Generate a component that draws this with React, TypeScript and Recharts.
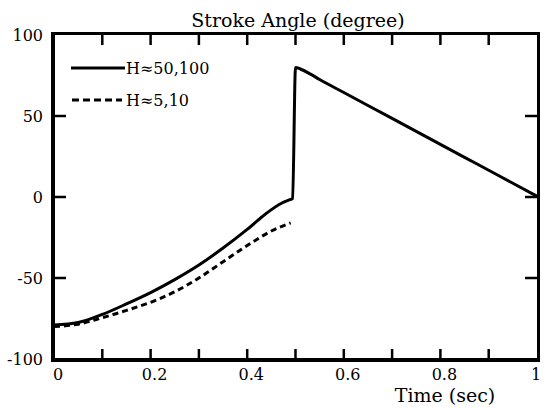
import { LineChart, Line, XAxis, YAxis, Legend } from "recharts"

// time (sec) and stroke angle (degree)
const solidTime = [0, 0.05, 0.1, 0.15, 0.2, 0.25, 0.3, 0.35, 0.4, 0.44, 0.47, 0.49, 0.494, 0.5, 0.51, 0.53, 0.55, 0.6, 0.65, 0.7, 0.75, 0.8, 0.85, 0.9, 0.95, 1.0]
const solidAngle = [-79, -77.5, -72.5, -66, -59, -51, -42, -31.5, -20, -10, -4, -1.5, -1, 80, 79, 76, 72.5, 64.5, 56.5, 48.5, 40.5, 32.5, 24.5, 16.5, 8.5, 0.5]

const dashedTime = [0, 0.05, 0.1, 0.15, 0.2, 0.25, 0.3, 0.35, 0.4, 0.45, 0.49]
const dashedAngle = [-80, -78.5, -74.5, -70, -65, -58.5, -50, -40, -30, -21, -16]

const seriesNames = ["H≈50,100", "H≈5,10"]

const xTicks = [0, 0.1, 0.2, 0.3, 0.4, 0.5, 0.6, 0.7, 0.8, 0.9, 1]
const xLabels = ["0", "", "0.2", "", "0.4", "", "0.6", "", "0.8", "", "1"]
const yTicks = [-100, -50, 0, 50, 100]

const solidData = solidTime.map((t, i) => ({ t, angle: solidAngle[i] }))
const dashedData = dashedTime.map((t, i) => ({ t, angle: dashedAngle[i] }))

const FONT = "DejaVu Serif"
const W = 544
const H = 407
const MARGIN = { top: 35, right: 7, bottom: 0, left: 0 }
const X_AXIS_H = 48
const Y_AXIS_W = 54
const LEFT = MARGIN.left + Y_AXIS_W
const TOP = MARGIN.top
const PLOT_W = W - LEFT - MARGIN.right
const PLOT_H = H - TOP - MARGIN.bottom - X_AXIS_H

function BottomTick({ x, y, index }: any) {
  const last = index === xTicks.length - 1
  return (
    <text x={last ? x - 1 : x + 4} y={y + 21} textAnchor="middle" fontFamily={FONT} fontSize={16} fill="#000">
      {xLabels[index]}
    </text>
  )
}

function LeftTick({ x, y, payload }: any) {
  return (
    <text x={x - 11} y={y + 6} textAnchor="end" fontFamily={FONT} fontSize={16} fill="#000">
      {payload.value}
    </text>
  )
}

// box around the plot with inward tick marks on all four sides
function Frame() {
  const px = (t: number) => LEFT + t * PLOT_W
  const py = (v: number) => TOP + ((100 - v) / 200) * PLOT_H
  const bars: { x: number; y: number; w: number; h: number }[] = []
  xTicks.slice(1, -1).forEach((t) => {
    bars.push({ x: px(t) - 1.25, y: TOP, w: 2.5, h: 10 })
    bars.push({ x: px(t) - 1.25, y: TOP + PLOT_H - 10, w: 2.5, h: 10 })
  })
  yTicks.slice(1, -1).forEach((v) => {
    bars.push({ x: LEFT, y: py(v) - 1.25, w: 12, h: 2.5 })
    bars.push({ x: LEFT + PLOT_W - 12, y: py(v) - 1.25, w: 12, h: 2.5 })
  })
  return (
    <div style={{ position: "absolute", left: 0, top: 0, width: W, height: H, pointerEvents: "none" }}>
      <div
        style={{
          position: "absolute",
          left: LEFT - 1.5,
          top: TOP - 1.5,
          width: PLOT_W,
          height: PLOT_H,
          border: "3px solid #000",
          boxSizing: "content-box",
          marginLeft: -1.5,
          marginTop: -1.5,
        }}
      />
      <svg width={W} height={H} style={{ position: "absolute", left: 0, top: 0 }}>
        {bars.map((b, i) => (
          <rect key={i} x={b.x} y={b.y} width={b.w} height={b.h} fill="#000" />
        ))}
        <text x={LEFT + 244} y={TOP - 8} textAnchor="middle" fontFamily={FONT} fontSize={19} fill="#000">
          Stroke Angle (degree)
        </text>
      </svg>
    </div>
  )
}

function LegendBox() {
  return (
    <svg width={160} height={60}>
      <line x1={5} x2={59} y1={15} y2={15} stroke="#000" strokeWidth={3} />
      <text x={60} y={21} fontFamily={FONT} fontSize={16} fill="#000">{seriesNames[0]}</text>
      <line x1={6} x2={56} y1={47} y2={47} stroke="#000" strokeWidth={3} strokeDasharray="7 4" />
      <text x={60} y={53} fontFamily={FONT} fontSize={16} fill="#000">{seriesNames[1]}</text>
    </svg>
  )
}

export default function App() {
  const axisLine = { stroke: "#000", strokeWidth: 2 }
  return (
    <div style={{ position: "absolute", left: 0, top: 0, width: W, height: H, background: "#fff" }}>
      <LineChart width={W} height={H} margin={MARGIN}>
        <XAxis
          type="number"
          dataKey="t"
          domain={[0, 1]}
          ticks={xTicks}
          interval={0}
          height={X_AXIS_H}
          axisLine={axisLine}
          tickLine={false}
          tickSize={0}
          tickMargin={0}
          tick={<BottomTick />}
          label={({ viewBox }: any) => (
            <text x={viewBox.x + 391} y={viewBox.y + 43} textAnchor="middle" fontFamily={FONT} fontSize={19} fill="#000">
              Time (sec)
            </text>
          )}
        />
        <YAxis
          type="number"
          domain={[-100, 100]}
          ticks={yTicks}
          interval={0}
          width={Y_AXIS_W}
          axisLine={axisLine}
          tickLine={false}
          tickSize={0}
          tickMargin={0}
          tick={<LeftTick />}
        />
        <Legend
          layout="vertical"
          align="center"
          verticalAlign="middle"
          wrapperStyle={{ left: 66, top: 53, width: 160, height: 60 }}
          content={() => <LegendBox />}
        />
        <Line
          data={solidData}
          dataKey="angle"
          name={seriesNames[0]}
          type="monotone"
          stroke="#000"
          strokeWidth={3}
          dot={false}
          activeDot={false}
          isAnimationActive={false}
        />
        <Line
          data={dashedData}
          dataKey="angle"
          name={seriesNames[1]}
          type="monotone"
          stroke="#000"
          strokeWidth={3}
          strokeDasharray="6 4"
          dot={false}
          activeDot={false}
          isAnimationActive={false}
        />
      </LineChart>
      <Frame />
    </div>
  )
}
